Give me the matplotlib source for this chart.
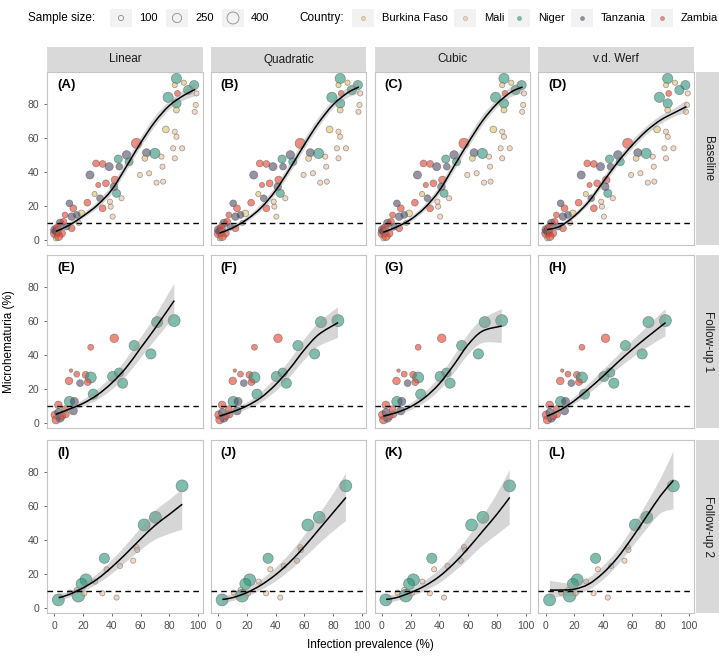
import matplotlib.pyplot as plt
import numpy as np
from matplotlib.path import Path
from matplotlib.patches import PathPatch, Rectangle

plt.rcParams['font.family'] = ['Liberation Sans', 'DejaVu Sans']

# ---- data -------------------------------------------------------------
countries = ['Burkina Faso', 'Mali', 'Niger', 'Tanzania', 'Zambia']
colors = {'Burkina Faso': '#dfbf6c', 'Mali': '#efbf98', 'Niger': '#2a9478',
          'Tanzania': '#4b4b66', 'Zambia': '#e6402a'}

# baseline survey
base_x = [85, 83.8, 90.1, 97.3, 93.1, 79.2, 85.7, 98.9, 85, 85, 98.4, 97.7, 77.6, 83.8, 85,
          82.7, 89, 83.8, 57.2, 70, 64.2, 63, 74.6, 75.3, 44.5, 50.3, 45.2, 29, 33.6, 38.2,
          24.8, 42.2, 35.9, 30.6, 59.5, 66, 71.1, 75.7, 43.3, 41.5, 46.8, 31.8, 23, 33.6,
          39.2, 40.6, 10.5, 13.2, 12.1, 19, 7.5, 4, 1.7, 0.5, 5.1, 1.2, 12.1, 8.6, 6.3, 0.3,
          15.6, 38.7, 52, 28, 17, 3, 2.2]
base_y = [95, 91.1, 92.5, 91.1, 88.2, 83.9, 86.2, 86.2, 80.3, 76.4, 79.4, 75.4, 65, 63.7, 60.7,
          53.9, 53.9, 48, 56.8, 50.9, 51.3, 48, 49, 43.1, 47.6, 50, 43.1, 45, 44.7, 43.1,
          38.2, 35.3, 33.3, 32.3, 38.2, 39.2, 33.7, 34.3, 27.4, 31.3, 24.5, 24.5, 21.9, 18.6,
          19.6, 13.7, 21.5, 18.6, 13.7, 15.6, 14.7, 9.8, 4.9, 3.9, 3.9, 0.9, 6.8, 7.8, 10.7, 6,
          14.7, 22.5, 46, 27, 10, 2, 7]
base_country = ['Niger', 'Burkina Faso', 'Burkina Faso', 'Niger', 'Niger', 'Niger', 'Zambia',
                'Mali', 'Niger', 'Burkina Faso', 'Mali', 'Mali', 'Burkina Faso', 'Mali', 'Mali',
                'Mali', 'Mali', 'Mali', 'Zambia', 'Niger', 'Tanzania', 'Burkina Faso', 'Mali',
                'Mali', 'Niger', 'Tanzania', 'Tanzania', 'Zambia', 'Zambia', 'Tanzania',
                'Tanzania', 'Zambia', 'Zambia', 'Zambia', 'Mali', 'Mali', 'Mali', 'Mali',
                'Niger', 'Tanzania', 'Mali', 'Tanzania', 'Zambia', 'Zambia', 'Mali', 'Mali',
                'Tanzania', 'Zambia', 'Tanzania', 'Burkina Faso', 'Zambia', 'Tanzania',
                'Tanzania', 'Zambia', 'Zambia', 'Burkina Faso', 'Zambia', 'Tanzania', 'Zambia',
                'Tanzania', 'Tanzania', 'Mali', 'Niger', 'Burkina Faso', 'Mali', 'Zambia', 'Zambia']
base_n = [300, 100, 100, 250, 250, 300, 120, 100, 250, 120, 100, 100, 150, 100, 100,
          100, 100, 100, 300, 300, 200, 120, 100, 100, 200, 220, 150, 150, 150, 200,
          200, 180, 150, 100, 100, 100, 100, 100, 200, 180, 100, 150, 150, 150,
          100, 100, 150, 150, 180, 150, 120, 200, 250, 250, 180, 100, 150, 150, 150, 200,
          150, 100, 200, 100, 100, 200, 200]

# follow-up 1
fu1_x = [83.4, 71.6, 41.7, 25.3, 55.6, 67.2, 40.6, 45, 47.5, 11.6, 15.6, 21.8, 25.3, 10.2,
         17.9, 23.2, 27.1, 10.5, 13.9, 2.8, 13.2, 7.5, 0.5, 1.2, 4, 3, 8, 5.5]
fu1_y = [60.2, 59.3, 49.8, 44.5, 45.5, 40.6, 27.3, 29.6, 23.4, 30.8, 28.7, 28.3, 26.7, 24.7,
         23.4, 24, 16.9, 12.6, 12.6, 10.6, 7.1, 8.1, 4.7, 1.8, 2.8, 6, 5, 4]
fu1_country = ['Niger', 'Niger', 'Zambia', 'Zambia', 'Niger', 'Niger', 'Niger', 'Niger', 'Niger',
               'Zambia', 'Zambia', 'Zambia', 'Niger', 'Zambia', 'Tanzania', 'Zambia', 'Niger',
               'Niger', 'Tanzania', 'Zambia', 'Tanzania', 'Zambia', 'Zambia', 'Zambia',
               'Tanzania', 'Tanzania', 'Zambia', 'Zambia']
fu1_n = [400, 350, 220, 120, 300, 300, 300, 250, 300, 60, 120, 150, 350, 180,
         150, 150, 300, 300, 200, 180, 200, 150, 200, 200, 200, 200, 150, 150]

# follow-up 2
fu2_x = [88.9, 70.4, 62.5, 34.8, 57.2, 57.7, 54.9, 45.7, 36.4, 22, 19, 28.3, 15.6, 10.9,
         16.7, 20.9, 33.4, 43.3, 2.8]
fu2_y = [71.8, 53.3, 48.8, 29.2, 35.7, 34.1, 27.8, 24.7, 22.7, 16.5, 14.1, 15.5, 10.6, 9,
         7.2, 8.6, 8.6, 6.1, 4.7]
fu2_country = ['Niger', 'Niger', 'Niger', 'Niger', 'Mali', 'Mali', 'Mali', 'Mali', 'Mali',
               'Niger', 'Niger', 'Mali', 'Mali', 'Mali', 'Niger', 'Mali', 'Mali', 'Mali', 'Niger']
fu2_n = [400, 400, 400, 300, 100, 100, 100, 100, 100, 400, 350, 100, 100, 100, 450, 100, 100,
         100, 400]

# fitted curves with 95% bands, read at fixed prevalence values
base_grid = [1, 10, 20, 30, 40, 50, 60, 70, 80, 90, 98]
fu1_grid = [1, 10, 20, 30, 40, 50, 60, 70, 83.5]
fu2_grid = [3, 10, 20, 30, 40, 50, 60, 70, 80, 89]

fit_A = [5, 8.5, 14, 20.5, 29.5, 43, 57, 69.5, 79, 85, 88.5]
lo_A = [3, 7, 12.5, 18.5, 27, 40, 54, 66.5, 76.5, 82, 84.5]
hi_A = [7, 10, 15.5, 22.5, 32, 46, 60, 72.5, 81.5, 88, 92.5]
fit_B = [4, 7, 12, 19, 29, 42, 56, 69, 79.5, 86.5, 90]
lo_B = [2, 5.5, 10.5, 17, 26.5, 39, 53, 66, 77, 83.5, 86]
hi_B = [6, 8.5, 13.5, 21, 31.5, 45, 59, 72, 82, 89.5, 94]
fit_C = [4.5, 7.5, 12, 19, 29, 43, 57, 70, 80, 87, 90]
lo_C = [2, 6, 10.5, 17, 26.5, 40, 54, 67, 77.5, 84, 86]
hi_C = [7, 9, 13.5, 21, 31.5, 46, 60, 73, 82.5, 90, 94]
fit_D = [6, 8, 14, 22.5, 34, 45.5, 55.5, 64, 70.5, 75, 78.4]
lo_D = [4, 6.5, 12.5, 20.5, 31.5, 43, 53, 61.5, 68, 72.5, 75]
hi_D = [8, 9.5, 15.5, 24.5, 36.5, 48, 58, 66.5, 73, 77.5, 82]

fit_E = [5, 8, 11.5, 16.5, 23.5, 32.5, 44, 55.5, 72]
lo_E = [2.5, 6, 9.5, 13.5, 19.5, 27.5, 38, 48.5, 62.5]
hi_E = [7.5, 10, 13.5, 19.5, 27.5, 37.5, 50, 62.5, 82]
fit_F = [4, 6.5, 10, 15, 22.5, 32, 43, 52, 59]
lo_F = [1.5, 4.5, 8, 12, 18.5, 27, 37, 45, 50]
hi_F = [6.5, 8.5, 12, 18, 26.5, 37, 49, 59, 68]
fit_G = [4, 6, 9.5, 15, 23, 34, 46, 54, 57]
lo_G = [1.5, 4, 7.5, 12, 19, 29, 40, 47, 47]
hi_G = [6.5, 8, 11.5, 18, 27, 39, 52, 61, 67]
fit_H = [4, 7.5, 13, 20, 27.5, 35.5, 43, 50, 59]
lo_H = [1.5, 5.5, 11, 17, 24, 31.5, 38, 44, 51]
hi_H = [6.5, 9.5, 15, 23, 31, 39.5, 48, 56, 67]

fit_I = [6, 7.8, 11.8, 17, 24, 32, 40.5, 48.5, 55, 61]
lo_I = [3.5, 6, 9.5, 14, 20, 27, 34, 40, 43.5, 46]
hi_I = [8.5, 9.5, 14, 20, 28, 37, 47, 57, 63.5, 70]
fit_J = [5, 6, 9, 13.5, 19.5, 27, 36, 46, 56, 65]
lo_J = [2.5, 4, 6.5, 10.5, 15.5, 22, 29.5, 37.5, 45, 51]
hi_J = [7.5, 8, 11.5, 16.5, 23.5, 32, 42.5, 54.5, 67, 79]
fit_K = [5, 6, 9, 13, 18.5, 26, 35, 45, 55, 65]
lo_K = [2.5, 4, 6.5, 10, 14.5, 21, 28.5, 36.5, 43, 49]
hi_K = [7.5, 8, 11.5, 16, 22.5, 31, 41.5, 53.5, 67, 81]
fit_L = [10.5, 10.5, 11, 14, 20.5, 29.5, 41, 53.5, 66, 75]
lo_L = [5.5, 6.5, 7.5, 10.5, 16.5, 25, 35.5, 46, 55.5, 58]
hi_L = [16, 15, 14.5, 17.5, 24.5, 34, 46.5, 61, 76, 92]

models = ['Linear', 'Quadratic', 'Cubic', 'v.d. Werf']
surveys = ['Baseline', 'Follow-up 1', 'Follow-up 2']
letters = 'ABCDEFGHIJKL'
threshold = 10

rows = [
    (base_x, base_y, base_country, base_n, base_grid,
     [(fit_A, lo_A, hi_A), (fit_B, lo_B, hi_B), (fit_C, lo_C, hi_C), (fit_D, lo_D, hi_D)]),
    (fu1_x, fu1_y, fu1_country, fu1_n, fu1_grid,
     [(fit_E, lo_E, hi_E), (fit_F, lo_F, hi_F), (fit_G, lo_G, hi_G), (fit_H, lo_H, hi_H)]),
    (fu2_x, fu2_y, fu2_country, fu2_n, fu2_grid,
     [(fit_I, lo_I, hi_I), (fit_J, lo_J, hi_J), (fit_K, lo_K, hi_K), (fit_L, lo_L, hi_L)]),
]


# ---- helpers ----------------------------------------------------------
def bezier(xs, ys):
    # smooth (Catmull-Rom) path through the read points
    p = np.column_stack([xs, ys]).astype(float)
    verts = [p[0]]
    codes = [Path.MOVETO]
    for i in range(len(p) - 1):
        p0 = p[i - 1] if i > 0 else p[i]
        p3 = p[i + 2] if i + 2 < len(p) else p[i + 1]
        verts += [p[i] + (p[i + 1] - p0) / 6, p[i + 1] - (p3 - p[i]) / 6, p[i + 1]]
        codes += [Path.CURVE4] * 3
    return verts, codes


def size_of(n):
    return np.clip(0.2 * np.asarray(n, float) - 6, 6, None)


W, H = 719, 662
fig = plt.figure(figsize=(W / 100, H / 100), dpi=100)


def px_axes(left, top, w, h):
    return fig.add_axes([left / W, 1 - (top + h) / H, w / W, h / H])


col_left = [47, 210.75, 374.5, 538.25]
col_w = 155.75
row_top = [72, 255, 440]
row_h = 173
border = '#c4c4c4'
strip_bg = '#d9d9d9'

for r, (xs, ys, cs, ns, grid, fits) in enumerate(rows):
    for c in range(4):
        ax = px_axes(col_left[c], row_top[r], col_w, row_h)
        ax.scatter(xs, ys, s=size_of(ns), c=[colors[k] for k in cs], alpha=0.6,
                   edgecolors='#555555', linewidths=0.5, zorder=2)
        fit, lo, hi = fits[c]
        uv, uc = bezier(grid, hi)
        lv, lc = bezier(grid[::-1], lo[::-1])
        lc[0] = Path.LINETO
        band = Path(uv + lv + [uv[0]], uc + lc + [Path.CLOSEPOLY])
        ax.add_patch(PathPatch(band, facecolor='#999999', edgecolor='none', alpha=0.4, zorder=3))
        fv, fc = bezier(grid, fit)
        ax.add_patch(PathPatch(Path(fv, fc), facecolor='none', edgecolor='black', lw=1.1, zorder=4))
        ax.axhline(threshold, color='black', lw=1, ls=(0, (4, 3)), zorder=5)
        ax.set_xlim(-5.1, 103.3)
        ax.set_ylim(-3, 98.8)
        ax.set_xticks([0, 20, 40, 60, 80, 100])
        ax.set_yticks([0, 20, 40, 60, 80])
        ax.tick_params(length=2.5, width=0.5, color='#333333', labelsize=7.5,
                       labelcolor='#4d4d4d', pad=3)
        if c > 0:
            ax.tick_params(axis='y', left=False, labelleft=False)
        if r < 2:
            ax.tick_params(axis='x', bottom=False, labelbottom=False)
        for sp in ax.spines.values():
            sp.set_color(border)
            sp.set_linewidth(0.8)
        ax.text(0.065, 0.925, '(' + letters[r * 4 + c] + ')', transform=ax.transAxes,
                fontsize=9.5, fontweight='bold', va='center', ha='left', zorder=6)

# strips
for c in range(4):
    s = px_axes(col_left[c], 47, col_w, 25)
    s.set_facecolor(strip_bg)
    s.set_xticks([]); s.set_yticks([])
    for sp in s.spines.values():
        sp.set_visible(False)
    s.text(0.5, 0.5, models[c], ha='center', va='center', fontsize=8.5, color='#1a1a1a')
for r in range(3):
    s = px_axes(696, row_top[r], 23, row_h)
    s.set_facecolor(strip_bg)
    s.set_xticks([]); s.set_yticks([])
    for sp in s.spines.values():
        sp.set_visible(False)
    s.text(0.5, 0.5, surveys[r], ha='center', va='center', rotation=-90,
           fontsize=8.5, color='#1a1a1a')

fig.text(9 / W, 1 - 342 / H, 'Microhematuria (%)', rotation=90, ha='center', va='center',
         fontsize=8.5)
fig.text(370 / W, 1 - 645 / H, 'Infection prevalence (%)', ha='center', va='center',
         fontsize=8.5)

# legend
lg = px_axes(0, 0, W, 40)
lg.set_xlim(0, W)
lg.set_ylim(40, 0)
lg.axis('off')
ly = 18
lg.text(28, ly, 'Sample size:', va='center', ha='left', fontsize=8.5)
for cx, n in zip([121, 177, 233], [100, 250, 400]):
    lg.add_patch(Rectangle((cx - 11, ly - 9), 22, 18, facecolor='#f2f2f2', edgecolor='none'))
    lg.scatter([cx], [ly], s=size_of([n]), facecolors='none', edgecolors='#8c8c8c', linewidths=0.6)
    lg.text(cx + 18, ly, str(n), va='center', ha='left', fontsize=8)
lg.text(299, ly, 'Country:', va='center', ha='left', fontsize=8.5)
for cx, k in zip([363, 465, 519, 582, 662], countries):
    lg.add_patch(Rectangle((cx - 11, ly - 9), 22, 18, facecolor='#f2f2f2', edgecolor='none'))
    lg.scatter([cx], [ly], s=10, c=colors[k], alpha=0.6, edgecolors='#777777', linewidths=0.3)
    lg.text(cx + 19, ly, k, va='center', ha='left', fontsize=8)

fig.savefig('out.png', dpi=100)
